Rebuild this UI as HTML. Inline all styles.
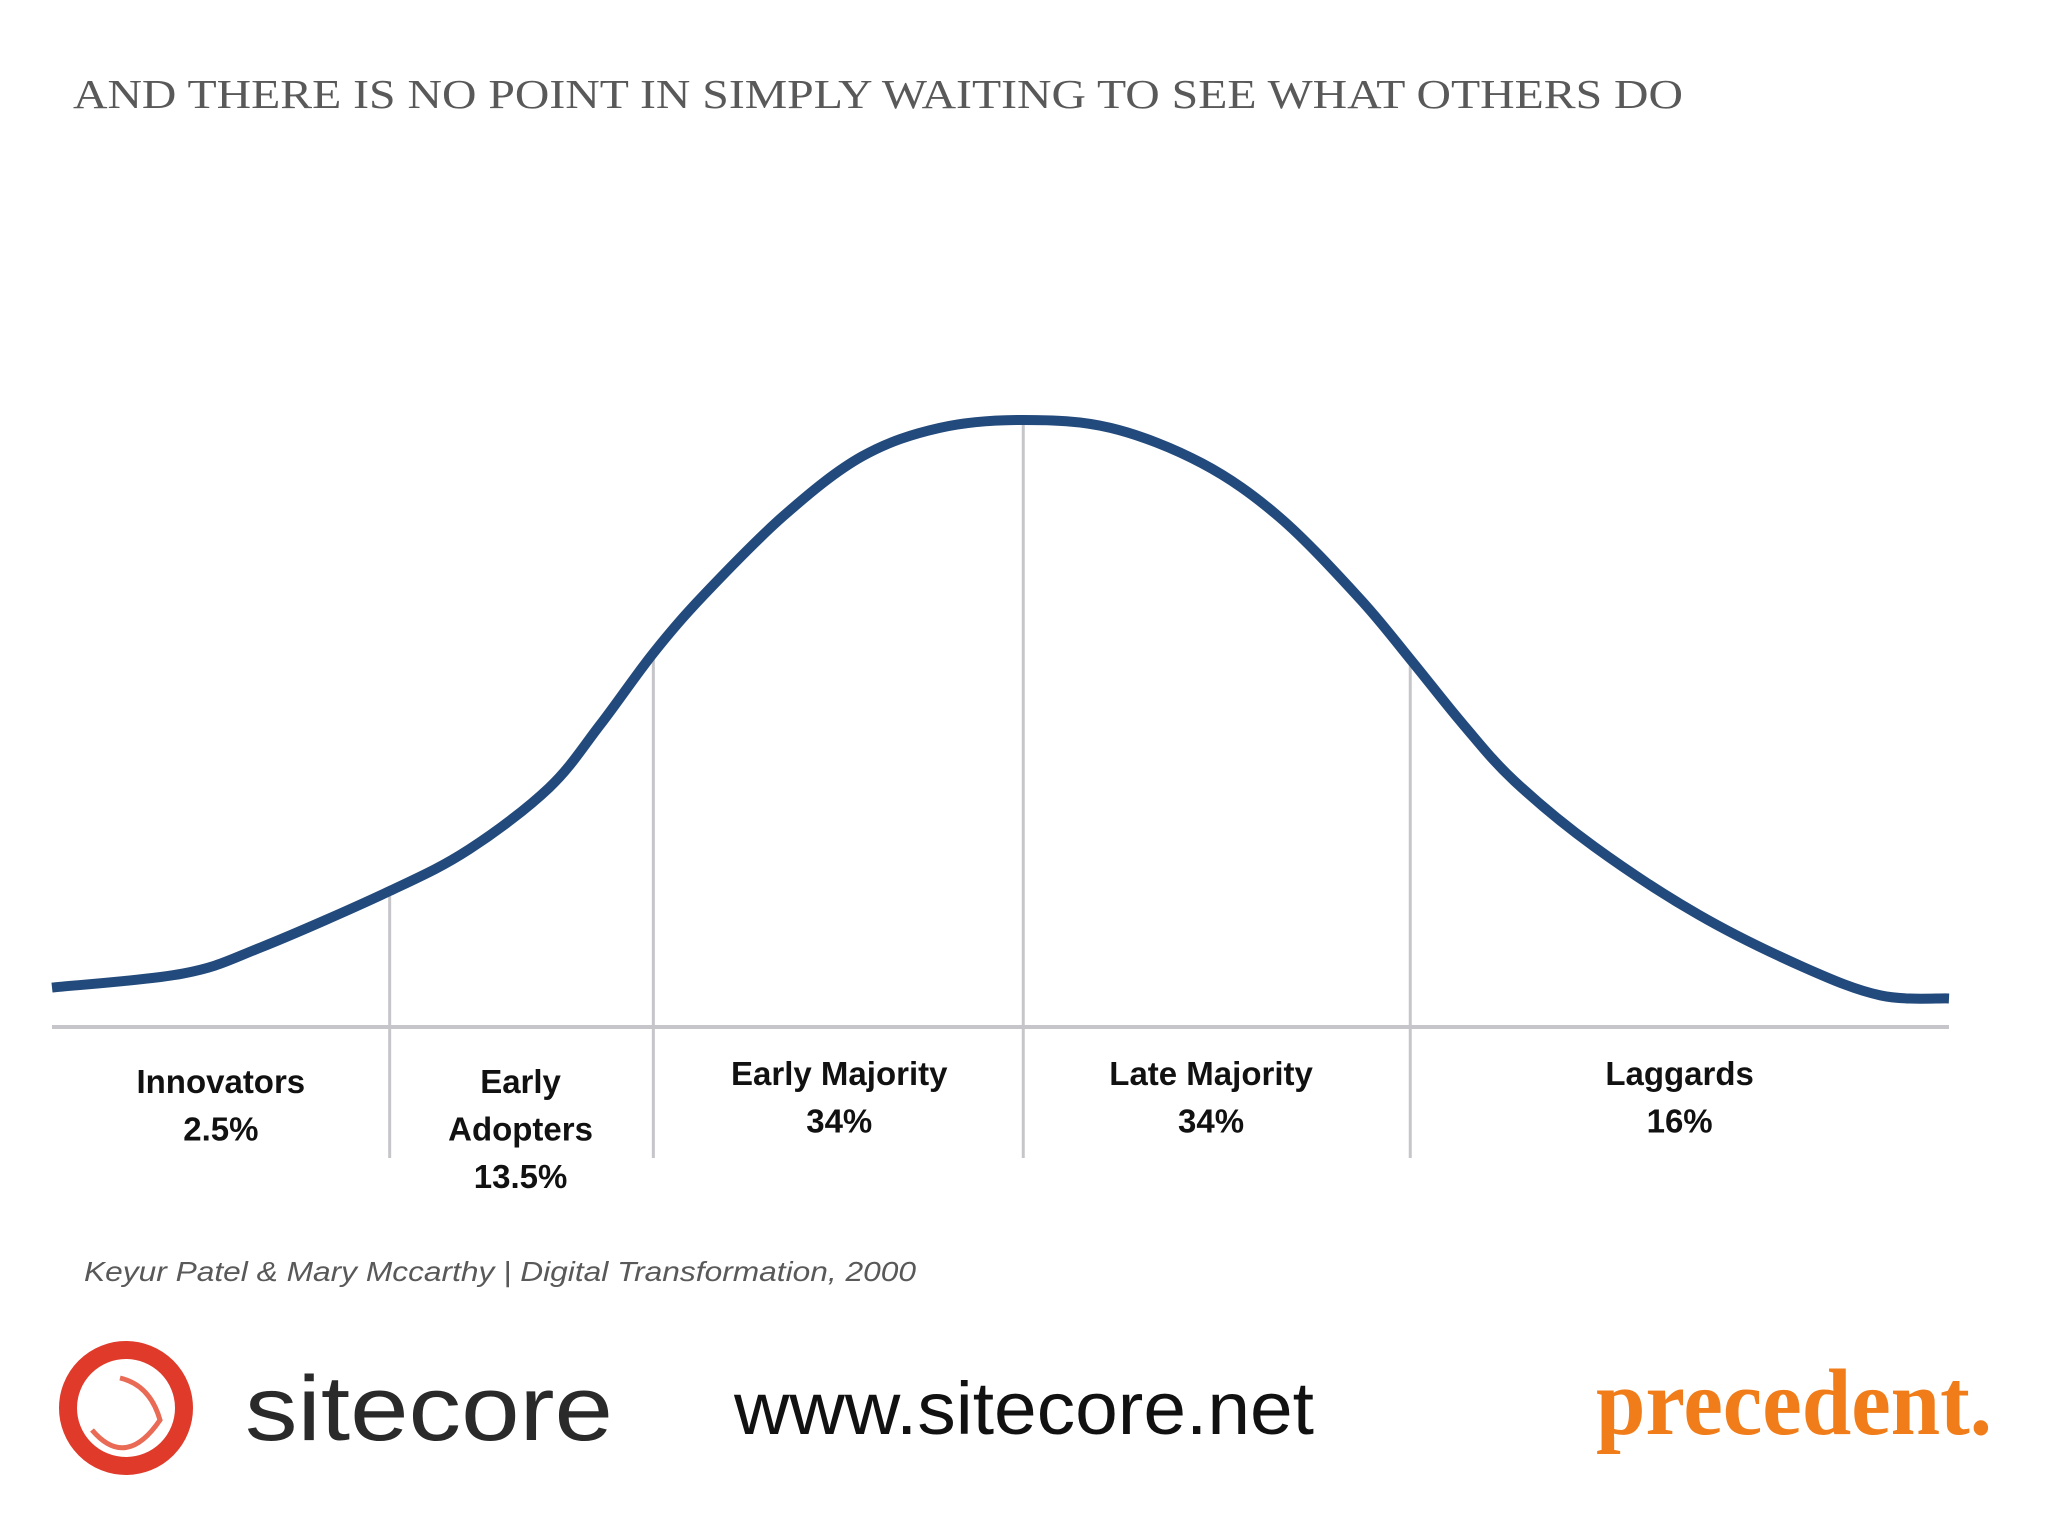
<!DOCTYPE html>
<html><head><meta charset="utf-8"><style>
html,body{margin:0;padding:0;background:#fff;}
svg{display:block;}
</style></head><body>
<svg id="chart" width="2048" height="1536" viewBox="0 0 2048 1536" xmlns="http://www.w3.org/2000/svg">
<rect width="2048" height="1536" fill="#ffffff"/>
<text x="73" y="108" font-family="'Liberation Serif',serif" font-size="41" fill="#595959" textLength="1610" lengthAdjust="spacingAndGlyphs">AND THERE IS NO POINT IN SIMPLY WAITING TO SEE WHAT OTHERS DO</text>
<g id="plot"></g>
<text x="84" y="1281" font-family="'Liberation Sans',sans-serif" font-style="italic" font-size="28" fill="#595959" textLength="832" lengthAdjust="spacingAndGlyphs">Keyur Patel &amp; Mary Mccarthy | Digital Transformation, 2000</text>
<g>
<circle cx="126" cy="1408" r="58" fill="none" stroke="#e03a2a" stroke-width="18"/>
<path d="M92 1430 Q126 1470 160 1420 Q150 1385 120 1378" fill="none" stroke="#e96a55" stroke-width="5"/>
<text x="245" y="1440" font-family="'Liberation Sans',sans-serif" font-size="92" fill="#2a2a2a" textLength="368" lengthAdjust="spacingAndGlyphs">sitecore</text>
</g>
<text x="734" y="1434" font-family="'Liberation Sans',sans-serif" font-size="74" fill="#111" textLength="580" lengthAdjust="spacingAndGlyphs">www.sitecore.net</text>
<text x="1596" y="1434" font-family="'Liberation Serif',serif" font-weight="bold" font-size="94" fill="#f07d1a" textLength="396" lengthAdjust="spacingAndGlyphs">precedent.</text>
</svg>
<script>
// curve samples: x = position along adoption timeline (0-100), y = relative density (0-100)
const curveX = [0,6.9,11.0,17.8,22.0,26.2,28.9,31.7,34.4,38.6,42.7,46.8,51.2,55.8,60.6,64.7,68.9,71.6,74.4,77.1,81.3,86.8,92.3,96.4,100];
const curveY = [6.5,8.8,13.1,22.4,29.3,39.4,49.8,61.6,71.3,84.3,94.0,98.7,100,98.7,92.9,84.0,70.7,60.6,49.8,40.5,29.7,18.5,9.9,5.2,4.7];
const dividers = [17.8,31.7,51.2,71.6];
const categories = ["Innovators","Early Adopters","Early Majority","Late Majority","Laggards"];
const shares = ["2.5%","13.5%","34%","34%","16%"];
const labelLines = [["Innovators"],["Early","Adopters"],["Early Majority"],["Late Majority"],["Laggards"]];
const labelCenters = [8.9,24.7,41.5,61.1,85.8];

const NS="http://www.w3.org/2000/svg";
const g=document.getElementById('plot');
const X0=52,X1=1949,Y0=1027,Y1=420;
const sx=v=>X0+v/100*(X1-X0);
const sy=v=>Y0-v/100*(Y0-Y1);
function interpY(x){for(let i=0;i<curveX.length-1;i++){if(x>=curveX[i]&&x<=curveX[i+1]){const t=(x-curveX[i])/(curveX[i+1]-curveX[i]);return curveY[i]+t*(curveY[i+1]-curveY[i]);}}return curveY[curveY.length-1];}

const base=document.createElementNS(NS,'line');


base.setAttribute('x1',X0);base.setAttribute('x2',X1);base.setAttribute('y1',Y0);base.setAttribute('y2',Y0);
base.setAttribute('stroke','#c6c6ca');base.setAttribute('stroke-width','4');
g.appendChild(base);

dividers.forEach((d,i)=>{
  const l=document.createElementNS(NS,'line');
  
  
  l.setAttribute('x1',sx(d));l.setAttribute('x2',sx(d));
  l.setAttribute('y1',sy(interpY(d)));l.setAttribute('y2',1158);
  l.setAttribute('stroke','#c6c6ca');l.setAttribute('stroke-width','3');
  g.appendChild(l);
});

const pts=curveX.map((x,i)=>[sx(x),sy(curveY[i])]);
let d=`M${pts[0][0]},${pts[0][1]}`;
for(let i=0;i<pts.length-1;i++){
  const p0=pts[Math.max(0,i-1)],p1=pts[i],p2=pts[i+1],p3=pts[Math.min(pts.length-1,i+2)];
  const c1=[p1[0]+(p2[0]-p0[0])/6,p1[1]+(p2[1]-p0[1])/6];
  const c2=[p2[0]-(p3[0]-p1[0])/6,p2[1]-(p3[1]-p1[1])/6];
  d+=` C${c1[0]},${c1[1]} ${c2[0]},${c2[1]} ${p2[0]},${p2[1]}`;
}
const path=document.createElementNS(NS,'path');


path.setAttribute('d',d);path.setAttribute('fill','none');
path.setAttribute('stroke','#234a7c');path.setAttribute('stroke-width','10');
g.appendChild(path);

categories.forEach((c,i)=>{
  const lines=labelLines[i].concat([shares[i]]);
  const startY = (i<2)?1093:1085;
  const t=document.createElementNS(NS,'text');
  
  
  t.setAttribute('text-anchor','middle');
  t.setAttribute('font-family',"'Liberation Sans',sans-serif");
  t.setAttribute('font-weight','bold');t.setAttribute('font-size','33');t.setAttribute('fill','#111');
  lines.forEach((ln,j)=>{
    const s=document.createElementNS(NS,'tspan');
    s.setAttribute('x',sx(labelCenters[i]));
    s.setAttribute('y',startY+j*47.5);
    s.textContent=ln;t.appendChild(s);
  });
  g.appendChild(t);
});
</script>
</body></html>
